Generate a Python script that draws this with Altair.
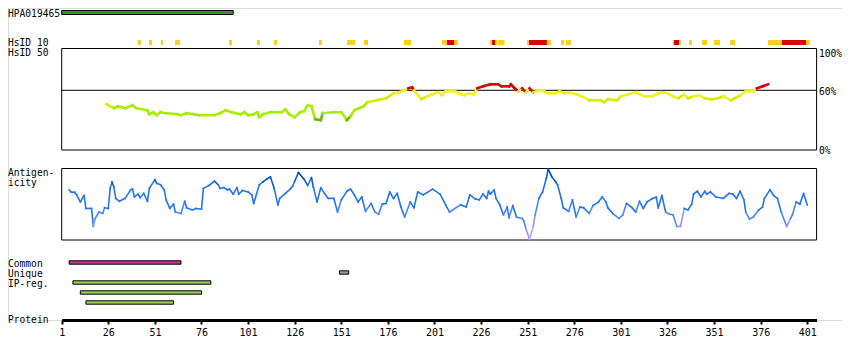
import altair as alt
import pandas as pd

FONT = "DejaVu Sans Mono"

# ---------------- data (residue positions / values) ----------------
protein_len = 406
tick_values = [1, 26, 51, 76, 101, 126, 151, 176, 201, 226, 251, 276, 301, 326, 351, 376, 401]

hpa_range = [(1, 93)]
common_ranges = [(5, 65)]
unique_ranges = [(150, 155)]
ipreg_ranges = [(7, 81), (11, 76), (14, 61)]

hsid10_yellow = [(41.8, 43.5), (47.8, 49.5), (54.3, 55.4), (61.8, 64.5), (90.8, 92.4), (105.8, 107.4),
                 (114.9, 116.5), (139, 140.6), (154, 158.4), (163.2, 165.3), (184.6, 188.4),
                 (205, 213.6), (230.8, 234.6), (235, 238.6), (250.6, 263.5), (268.9, 270.5),
                 (271.5, 274.2), (328.9, 333.2), (337.5, 339.1), (344.5, 347.2), (351, 354.2),
                 (359.6, 362.3), (379.9, 402.4)]
hsid10_red = [(207.7, 211.5), (231.9, 233.5), (251.7, 261.3), (329.5, 332.2), (387.4, 400.3)]

hsid50 = [(25, 46), (29, 42), (31, 44), (35, 42), (39, 45), (41, 42), (47, 40), (48, 36), (50, 38),
          (52, 35), (54, 38), (57, 37), (63, 36), (65, 35), (68, 37), (72, 36), (75, 35), (83, 35),
          (86, 37), (89, 40), (92, 38), (97, 36), (99, 38), (101, 35), (104, 36), (106, 38), (107, 33),
          (109, 36), (113, 38), (119, 38), (121, 41), (123, 36), (126, 33), (129, 38), (131, 39),
          (133, 45), (135, 44), (137, 31), (140, 30), (141, 37), (147, 38), (151, 38), (154, 30),
          (156, 34), (158, 40), (163, 44), (165, 48), (170, 50), (175, 52), (179, 57), (182, 58),
          (185, 60), (187, 62), (189, 63), (190, 60), (194, 51), (197, 54), (200, 56), (203, 58),
          (205, 55), (207, 59), (212, 59), (214, 57), (217, 55), (219, 57), (222, 56), (224, 62),
          (227, 64), (231, 66), (235, 66), (237, 64), (241, 64), (242, 66), (244, 62), (246, 59),
          (248, 62), (250, 58), (252, 62), (254, 58), (257, 60), (260, 59), (262, 57), (266, 57),
          (268, 59), (271, 57), (273, 58), (277, 56), (280, 54), (284, 50), (290, 50), (292, 48),
          (294, 51), (299, 50), (301, 54), (305, 56), (309, 58), (311, 56), (314, 54), (318, 54),
          (320, 56), (323, 58), (326, 57), (329, 54), (332, 52), (335, 56), (337, 52), (340, 54),
          (343, 55), (346, 52), (350, 51), (353, 52), (356, 54), (360, 50), (362, 52), (365, 55),
          (368, 59), (372, 59), (374, 62), (377, 64), (380, 66)]

antigenicity = [(5, .70), (6, .67), (8, .665), (9, .63), (11, .53), (13, .62), (14, .44), (17, .44),
                (18, .19), (19, .30), (21, .39), (23, .37), (24, .45), (26, .44), (27, .72), (28, .81),
                (29, .74), (30, .58), (32, .54), (35, .58), (38, .70), (39, .71), (40, .60), (42, .64),
                (43, .59), (45, .65), (47, .54), (48, .72), (51, .84), (52, .79), (54, .77), (56, .70),
                (57, .56), (59, .44), (61, .50), (62, .39), (65, .37), (67, .54), (68, .45), (71, .42),
                (73, .44), (76, .43), (77, .72), (80, .76), (83, .82), (85, .77), (86, .72), (88, .73),
                (90, .70), (91, .71), (93, .64), (95, .73), (96, .64), (98, .69), (101, .67), (103, .63),
                (104, .51), (107, .77), (109, .81), (111, .85), (113, .88), (115, .72), (117, .49),
                (118, .58), (121, .65), (124, .72), (125, .76), (126, .82), (128, .94), (131, .85),
                (133, .76), (135, .87), (136, .74), (138, .53), (140, .73), (142, .65), (144, .58),
                (147, .58), (149, .39), (151, .56), (154, .68), (156, .71), (158, .63), (160, .53),
                (162, .60), (164, .40), (167, .51), (169, .39), (171, .36), (173, .50), (175, .51),
                (177, .67), (179, .58), (181, .65), (183, .46), (185, .32), (188, .53), (190, .45),
                (192, .67), (195, .63), (200, .71), (204, .64), (207, .49), (209, .39), (215, .49),
                (218, .46), (220, .63), (223, .57), (225, .56), (227, .64), (229, .58), (230, .68),
                (231, .64), (233, .70), (234, .58), (236, .49), (238, .35), (240, .46), (241, .31),
                (243, .48), (245, .32), (248, .30), (249, .26), (250, .16), (252, .01), (254, .19),
                (255, .35), (257, .58), (259, .67), (261, .86), (262, .99), (264, .88), (266, .81),
                (267, .77), (269, .58), (270, .45), (273, .40), (275, .56), (277, .32), (279, .46),
                (281, .45), (284, .37), (286, .48), (289, .53), (291, .60), (293, .53), (294, .45),
                (297, .36), (300, .30), (302, .35), (304, .51), (307, .45), (309, .39), (311, .54),
                (313, .44), (315, .53), (318, .58), (320, .60), (321, .45), (323, .62), (325, .39),
                (327, .36), (329, .35), (331, .19), (333, .19), (335, .44), (337, .42), (339, .50),
                (340, .64), (342, .68), (344, .60), (346, .68), (347, .64), (349, .67), (352, .60),
                (356, .58), (359, .65), (361, .64), (363, .58), (365, .68), (367, .56), (368, .39),
                (370, .29), (372, .32), (375, .42), (377, .46), (378, .58), (381, .70), (383, .62),
                (385, .58), (387, .39), (390, .19), (392, .30), (393, .35), (395, .53), (397, .50),
                (399, .65), (401, .49)]

left_labels = ["HPA019465", "HsID 10", "HsID 50", "Antigen-", "icity", "Common", "Unique", "IP-reg.", "Protein"]
right_labels = ["100%", "60%", "0%"]

# ---------------- scales ----------------
xs = alt.Scale(domain=[1, protein_len], range=[53.7, 808.6], nice=False, zero=False)
xaxis = alt.Axis(values=tick_values, title=None, grid=False, domainColor="black", domainWidth=3,
                 tickColor="black", tickWidth=2, tickSize=4, labelFont=FONT, labelFontSize=10,
                 labelColor="black", labelPadding=3, labelFlush=False, labelAngle=0,
                 labelOverlap=False)


def X(field):
    return alt.X(field, type="quantitative", scale=xs, axis=xaxis)


ys50 = alt.Scale(domain=[0, 100], range=[142, 42.5], nice=False, zero=False)
ysag = alt.Scale(domain=[0, 1], range=[232, 160.3], nice=False, zero=False)


def ranges_df(r):
    return pd.DataFrame(r, columns=["s", "e"])


def bar(r, color, y0, y1, stroke="black"):
    return alt.Chart(ranges_df(r)).mark_rect(color=color, stroke=stroke, strokeWidth=1).encode(
        x=X("s"), x2="e", y=alt.value(y0), y2=alt.value(y1))


def segs(pairs):
    d = pd.DataFrame(pairs, columns=["r", "v"])
    d["r2"] = d["r"].shift(-1)
    d["v2"] = d["v"].shift(-1)
    return d.dropna()


def label(text, x, y, align="left", size=9.6):
    return alt.Chart(pd.DataFrame({"t": [text]})).mark_text(
        font=FONT, fontSize=size, align=align, baseline="alphabetic", color="black").encode(
        text="t:N", x=alt.value(x), y=alt.value(y))


layers = []

# HPA bar
layers.append(bar(hpa_range, "#22a012", 2.5, 6.5))

# HsID 10 blocks
layers.append(alt.Chart(ranges_df(hsid10_yellow)).mark_rect(color="#ffcc22").encode(
    x=X("s"), x2="e", y=alt.value(32), y2=alt.value(37)))
layers.append(alt.Chart(ranges_df(hsid10_red)).mark_rect(color="#dd0000").encode(
    x=X("s"), x2="e", y=alt.value(32), y2=alt.value(37)))

# HsID 50 box and 60% line
box = ranges_df([(1, protein_len)])
layers.append(alt.Chart(box).mark_rect(fillOpacity=0, stroke="black", strokeWidth=1).encode(
    x=X("s"), x2="e", y=alt.value(40.5), y2=alt.value(142)))
layers.append(alt.Chart(pd.DataFrame({"s": [1], "e": [protein_len], "v": [60]})).mark_rule(
    color="black", strokeWidth=1).encode(
    x=X("s"), x2="e", y=alt.Y("v:Q", scale=ys50, axis=None)))

# HsID 50 line
layers.append(alt.Chart(segs(hsid50)).mark_rule(strokeWidth=2.6, strokeCap="square").encode(
    x=X("r"), x2="r2",
    y=alt.Y("v:Q", scale=ys50, axis=None), y2="v2",
    color=alt.Color("v:Q", legend=None, scale=alt.Scale(
        type="threshold", domain=[32, 46, 53, 60.5],
        range=["#66bb00", "#a5ee00", "#d2ee00", "#f2f022", "#dd0000"]))))

# Antigenicity box and line
layers.append(alt.Chart(box).mark_rect(fillOpacity=0, stroke="black", strokeWidth=1).encode(
    x=X("s"), x2="e", y=alt.value(160.5), y2=alt.value(232)))
layers.append(alt.Chart(segs(antigenicity)).mark_rule(strokeWidth=1.6, strokeCap="square").encode(
    x=X("r"), x2="r2",
    y=alt.Y("v:Q", scale=ysag, axis=None), y2="v2",
    color=alt.Color("v:Q", legend=None, scale=alt.Scale(
        type="threshold", domain=[0.1, 0.22, 0.42, 0.8, 0.92],
        range=["#b4a9ff", "#8c94ff", "#4c86ff", "#2274f0", "#0b5bd6", "#0047a6"]))))

# Common / Unique / IP-reg bars
layers.append(bar(common_ranges, "#cc3399", 252.8, 256.2))
layers.append(bar(unique_ranges, "#999999", 262.8, 266.2))
for i, r in enumerate(ipreg_ranges):
    layers.append(bar([r], "#9ccc5c", 272.8 + 10 * i, 276.2 + 10 * i))

# labels
left_y = [8.7, 38, 48, 168.4, 178, 258.6, 268.6, 278.6, 315.3]
for t, y in zip(left_labels, left_y):
    layers.append(label(t, 0, y))
right_y = [48.6, 87, 146]
for t, y in zip(right_labels, right_y):
    layers.append(label(t, 811, y, size=9.6))

chart = alt.layer(*layers).resolve_scale(y="independent", color="independent").properties(
    width=834, height=312,
    autosize=alt.AutoSizeParams(type="none"),
    padding={"left": 0, "top": 0, "right": 0, "bottom": 30},
).configure_view(stroke=None).configure(background="white")

chart.save("out.html", embed_options={"renderer": "svg", "actions": False})
